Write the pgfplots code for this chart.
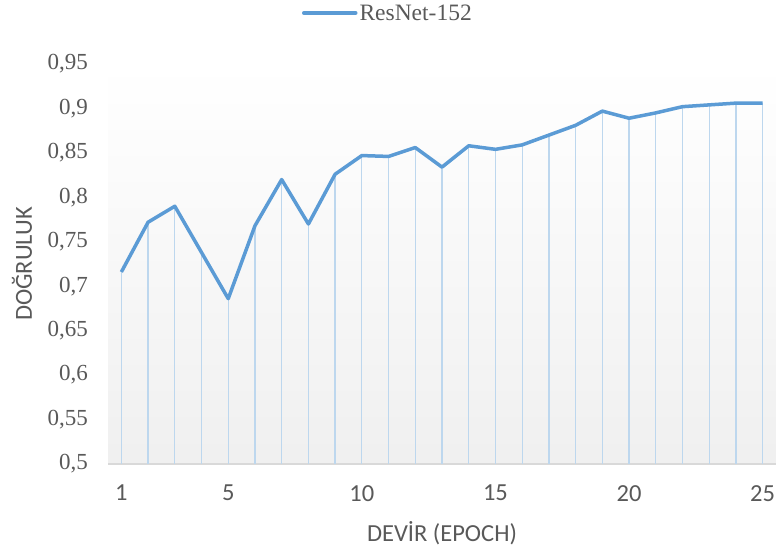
\documentclass[border=0pt]{standalone}
\usepackage{pgfplots}
\pgfplotsset{compat=1.18}
\usepackage{fontspec}
\setmainfont{Liberation Serif}
\newfontfamily\calfont{Carlito}
\definecolor{lineblue}{HTML}{5B9BD5}
\definecolor{dropblue}{HTML}{BDD7EE}
\definecolor{txtgray}{HTML}{595959}
\definecolor{axgray}{HTML}{D9D9D9}
\pgfplotstableread{
x y
1 0.716
2 0.772
3 0.790
4 0.738
5 0.686
6 0.768
7 0.820
8 0.770
9 0.826
10 0.847
11 0.846
12 0.856
13 0.834
14 0.858
15 0.854
16 0.859
17 0.870
18 0.881
19 0.897
20 0.889
21 0.895
22 0.902
23 0.904
24 0.906
25 0.906
}\datatable
\begin{document}
\begin{tikzpicture}
\useasboundingbox (0,0) rectangle (776bp,551bp);
\begin{axis}[
  at={(108bp,87bp)}, anchor=south west,
  scale only axis,
  width=668bp, height=400bp,
  xmin=0.5, xmax=25.5,
  ymin=0.5, ymax=0.95,
  xtick={1,5,10,15,20,25},
  ytick={0.5,0.55,0.6,0.65,0.7,0.75,0.8,0.85,0.9,0.95},
  major tick length=0pt,
  axis x line*=bottom,
  axis y line*=left,
  x axis line style={draw=axgray, line width=1.5bp, -},
  y axis line style={draw=none},
  axis background/.style={top color=white, bottom color=black!6},
  /pgf/number format/assume math mode=true,
  /pgf/number format/use comma,
  yticklabel style={font=\fontsize{23bp}{27bp}\selectfont, text=txtgray, inner sep=0pt, anchor=east, xshift=-20bp},
  xticklabel style={font=\calfont\fontsize{24.5bp}{28bp}\selectfont, text=txtgray, inner sep=0pt, anchor=north, yshift=-21bp},
  xlabel={DEVİR (EPOCH)},
  ylabel={DOĞRULUK},
  xlabel style={font=\calfont\fontsize{24.5bp}{28bp}\selectfont, text=txtgray, at={(axis description cs:0.5,-0.1725)}, anchor=center},
  ylabel style={font=\calfont\fontsize{24.5bp}{28bp}\selectfont, text=txtgray, at={(axis description cs:-0.1287,0.5)}, anchor=center},
  legend style={at={(axis description cs:0.419,1.1275)}, anchor=center, draw=none, fill=none, font=\fontsize{23.5bp}{27bp}\selectfont, text=txtgray, nodes={inner sep=2bp}},
  legend image code/.code={\draw[line width=3.5bp, lineblue, line cap=round] (0bp,0bp) -- (52bp,0bp);},
]
\addplot[ycomb, draw=dropblue, line width=1.3bp, forget plot] table[x=x,y=y] {\datatable};
\addplot[draw=lineblue, line width=3.5bp, line join=round, mark=none] table[x=x,y=y] {\datatable};
\addlegendentry{ResNet-152}
\end{axis}
\end{tikzpicture}
\end{document}
